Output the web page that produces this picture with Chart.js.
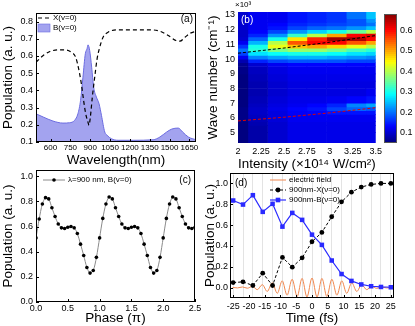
<!DOCTYPE html>
<html>
<head>
<meta charset="utf-8">
<script src="https://cdn.jsdelivr.net/npm/chart.js@4.4.1/dist/chart.umd.min.js"></script>
<style>
  html, body { margin: 0; padding: 0; background: #fff; }
  #wrap { position: relative; width: 415px; height: 326px; overflow: hidden; }
  #wrap canvas { position: absolute; }
</style>
</head>
<body>
<div id="wrap">
  <canvas id="cA" width="205" height="168" style="left:0;top:0"></canvas>
  <canvas id="cB" width="180" height="172" style="left:205px;top:0"></canvas>
  <canvas id="cBar" width="35" height="160" style="left:380px;top:0"></canvas>
  <canvas id="cC" width="205" height="166" style="left:0;top:160px"></canvas>
  <canvas id="cD" width="213" height="166" style="left:202px;top:160px"></canvas>
</div>
<script>
// (a) population vs wavelength
const wlX = [490, 545, 595, 658, 706, 757, 790, 815, 833, 850, 866, 883, 891, 901, 916, 934, 952, 972, 997, 1035, 1098, 1225, 1351, 1427, 1490, 1548, 1579, 1617, 1655, 1700];
const popX = [0.564, 0.603, 0.626, 0.636, 0.636, 0.622, 0.593, 0.516, 0.438, 0.342, 0.264, 0.216, 0.197, 0.245, 0.361, 0.477, 0.583, 0.651, 0.709, 0.738, 0.752, 0.752, 0.752, 0.744, 0.719, 0.69, 0.686, 0.709, 0.732, 0.744];
const wlB = [490, 545, 618, 694, 744, 782, 807, 827, 845, 863, 876, 883, 896, 911, 926, 947, 967, 985, 1010, 1028, 1060, 1111, 1225, 1376, 1427, 1478, 1516, 1566, 1599, 1642, 1700];
const popB = [0.264, 0.245, 0.222, 0.21, 0.212, 0.226, 0.264, 0.342, 0.477, 0.613, 0.642, 0.665, 0.632, 0.535, 0.419, 0.361, 0.322, 0.255, 0.158, 0.139, 0.119, 0.11, 0.11, 0.113, 0.129, 0.158, 0.175, 0.181, 0.158, 0.129, 0.113];
const wlTicks = [600, 750, 900, 1050, 1200, 1350, 1500, 1650];

// (b) map over intensity (x10^14 W/cm2) and wave number (x10^3 cm-1)
const intensityCols = [2.0, 2.2143, 2.4286, 2.6429, 2.8571, 3.0714, 3.2857, 3.5];
const waveEdges = [4.25, 5.0, 5.5, 5.75, 6.0, 6.25, 6.5, 6.75, 7.0, 7.5, 8.0, 8.5, 9.0, 9.5, 9.75, 10.0, 10.25, 10.5, 10.75, 11.0, 11.25, 11.5, 11.75, 12.0, 12.25, 12.5, 12.75, 13.25];
const heatValues = [
  [0.05, 0.05, 0.05, 0.055, 0.055, 0.055, 0.055, 0.05, 0.05, 0.05, 0.05, 0.05, 0.055, 0.06, 0.08, 0.12, 0.17, 0.2, 0.16, 0.12, 0.1, 0.095, 0.095, 0.1, 0.1, 0.1, 0.1],
  [0.075, 0.075, 0.08, 0.085, 0.09, 0.095, 0.095, 0.09, 0.085, 0.08, 0.08, 0.085, 0.09, 0.1, 0.15, 0.21, 0.27, 0.31, 0.3, 0.24, 0.19, 0.15, 0.13, 0.12, 0.12, 0.12, 0.12],
  [0.1, 0.1, 0.1, 0.105, 0.11, 0.11, 0.115, 0.11, 0.105, 0.1, 0.1, 0.105, 0.11, 0.12, 0.17, 0.23, 0.29, 0.36, 0.43, 0.4, 0.3, 0.22, 0.17, 0.14, 0.13, 0.12, 0.12],
  [0.115, 0.115, 0.115, 0.12, 0.12, 0.125, 0.13, 0.12, 0.115, 0.11, 0.11, 0.115, 0.12, 0.13, 0.18, 0.24, 0.3, 0.38, 0.48, 0.55, 0.46, 0.32, 0.22, 0.17, 0.15, 0.14, 0.14],
  [0.115, 0.115, 0.115, 0.12, 0.12, 0.13, 0.14, 0.13, 0.115, 0.11, 0.11, 0.115, 0.12, 0.13, 0.18, 0.24, 0.3, 0.38, 0.5, 0.6, 0.58, 0.4, 0.26, 0.19, 0.16, 0.15, 0.15],
  [0.115, 0.115, 0.115, 0.12, 0.12, 0.14, 0.17, 0.15, 0.12, 0.11, 0.11, 0.115, 0.12, 0.13, 0.18, 0.23, 0.29, 0.36, 0.47, 0.6, 0.66, 0.5, 0.3, 0.2, 0.17, 0.16, 0.16],
  [0.115, 0.115, 0.115, 0.12, 0.12, 0.14, 0.19, 0.21, 0.13, 0.11, 0.11, 0.115, 0.12, 0.13, 0.17, 0.22, 0.27, 0.33, 0.43, 0.55, 0.65, 0.6, 0.35, 0.22, 0.18, 0.18, 0.2],
  [0.115, 0.115, 0.115, 0.12, 0.12, 0.14, 0.18, 0.23, 0.14, 0.12, 0.11, 0.115, 0.12, 0.13, 0.17, 0.21, 0.26, 0.31, 0.4, 0.5, 0.6, 0.62, 0.4, 0.25, 0.2, 0.22, 0.25]
];
const ridgeI = [2.0, 2.5, 3.0, 3.5];
const ridgeUpper = [10.4, 10.75, 11.15, 11.6];
const ridgeLower = [5.8, 6.05, 6.35, 6.7];
const intensityTicks = [2, 2.25, 2.5, 2.75, 3, 3.25, 3.5];
const waveTicks = [5, 6, 7, 8, 9, 10, 11, 12, 13];
const cbarMin = 0.05, cbarMax = 0.68;
const cbarTicks = [0.1, 0.2, 0.3, 0.4, 0.5, 0.6];

// (c) population vs CEP phase
const phase = [0, 0.05, 0.1, 0.15, 0.2, 0.25, 0.3, 0.35, 0.4, 0.45, 0.5, 0.55, 0.6, 0.65, 0.7, 0.75, 0.8, 0.85, 0.9, 0.95,
  1.0, 1.05, 1.1, 1.15, 1.2, 1.25, 1.3, 1.35, 1.4, 1.45, 1.5, 1.55, 1.6, 1.65, 1.7, 1.75, 1.8, 1.85, 1.9, 1.95,
  2.0, 2.05, 2.1, 2.15, 2.2, 2.25, 2.3, 2.35, 2.4, 2.45, 2.5];
const popPhase = [0.51, 0.66, 0.78, 0.83, 0.82, 0.75, 0.68, 0.62, 0.59, 0.585, 0.595, 0.6, 0.59, 0.545, 0.46, 0.37, 0.275, 0.23, 0.25, 0.355,
  0.51, 0.665, 0.78, 0.835, 0.82, 0.75, 0.68, 0.62, 0.59, 0.585, 0.595, 0.6, 0.59, 0.545, 0.46, 0.37, 0.275, 0.23, 0.25, 0.355,
  0.51, 0.665, 0.78, 0.835, 0.82, 0.75, 0.68, 0.62, 0.59, 0.585, 0.595];

// (d) time evolution
const timeFs = [-25, -21.875, -18.75, -15.625, -12.5, -9.375, -6.25, -3.125, 0, 3.125, 6.25, 9.375, 12.5, 15.625, 18.75, 21.875, 25];
const popX900 = [0.048, 0.055, 0.02, 0.138, 0.02, 0.29, 0.196, 0.286, 0.44, 0.53, 0.68, 0.823, 0.916, 0.965, 0.99, 1.0, 1.0];
const popB900 = [0.836, 0.797, 0.887, 0.727, 0.804, 0.585, 0.717, 0.65, 0.508, 0.41, 0.26, 0.13, 0.064, 0.03, 0.013, 0.006, 0.003];
const fieldT = [-25.2, -23.6, -22.05, -20.5, -18.9, -17.35, -15.75, -14.2, -12.6, -11.0, -9.45, -7.9, -6.3, -4.7, -3.15, -1.6, 0,
  1.6, 3.15, 4.7, 6.3, 7.9, 9.45, 11.0, 12.6, 14.2, 15.75, 17.35, 18.9, 20.5, 22.05, 23.6, 25.2];
const fieldE = [0.002, -0.003, 0.006, -0.006, 0.012, -0.02, 0.028, -0.037, 0.046, -0.055, 0.065, -0.073, 0.08, -0.085, 0.088, -0.09, 0.092,
  -0.09, 0.088, -0.085, 0.08, -0.073, 0.065, -0.055, 0.046, -0.037, 0.028, -0.02, 0.013, -0.008, 0.005, -0.003, 0.001];
const timeTicks = [-25, -20, -15, -10, -5, 0, 5, 10, 15, 20, 25];

const FONT = '"Liberation Sans", Arial, sans-serif';
Chart.defaults.font.family = FONT;
Chart.defaults.font.size = 9;
Chart.defaults.color = '#000';
Chart.defaults.animation = false;
Chart.defaults.responsive = false;
Chart.defaults.plugins.legend.display = false;
Chart.defaults.plugins.tooltip.enabled = false;

const pts = (xs, ys) => xs.map((x, i) => ({ x: x, y: ys[i] }));
const oneDec = v => v.toFixed(1);

function jet(v) {
  const t = Math.min(1, Math.max(0, (v - cbarMin) / (cbarMax - cbarMin)));
  const c = k => Math.round(255 * Math.min(1, Math.max(0, 1.5 - Math.abs(4 * t - k))));
  return 'rgb(' + c(3) + ',' + c(2) + ',' + c(1) + ')';
}

// linear axis with fixed ticks and fixed box size
function axis(o) {
  return {
    type: 'linear', min: o.min, max: o.max, position: o.pos, offset: false,
    grid: { display: false, drawTicks: false },
    border: { display: false },
    ticks: { autoSkip: false, maxRotation: 0, padding: o.pad != null ? o.pad : 3, font: { size: o.tickSize || 9 }, callback: o.fmt || (v => v) },
    title: o.title ? { display: true, text: o.title, font: { size: 13.5 }, padding: 0 } : { display: false },
    afterBuildTicks: s => { s.ticks = o.ticks.map(v => ({ value: v })); },
    afterFit: s => {
      if (o.w != null) s.width = o.w;
      if (o.h != null) s.height = o.h;
    }
  };
}

// frame, inward ticks, keys and panel letters
const decor = {
  id: 'decor',
  afterDatasetsDraw(chart, args, o) {
    const ctx = chart.ctx, a = chart.chartArea;
    ctx.save();
    if (o.frame) {
      ctx.strokeStyle = o.frame;
      ctx.lineWidth = 1;
      ctx.setLineDash([]);
      const l = Math.round(a.left), t = Math.round(a.top), r = Math.round(a.right), b = Math.round(a.bottom);
      ctx.strokeRect(l + 0.5, t + 0.5, r - l - 1, b - t - 1);
      if (o.ticks) {
        ctx.beginPath();
        chart.scales.x.ticks.forEach(tk => {
          const p = Math.round(chart.scales.x.getPixelForValue(tk.value)) + 0.5;
          ctx.moveTo(p, b); ctx.lineTo(p, b - 3);
        });
        chart.scales.y.ticks.forEach(tk => {
          const p = Math.round(chart.scales.y.getPixelForValue(tk.value)) + 0.5;
          ctx.moveTo(l, p); ctx.lineTo(l + 3, p);
        });
        ctx.stroke();
      }
    }
    (o.keys || []).forEach(k => {
      const ds = chart.data.datasets[k.ds];
      const x0 = a.left + k.x, y0 = a.top + k.y;
      if (k.box) {
        ctx.fillStyle = ds.backgroundColor;
        ctx.fillRect(x0, y0 - 4, k.w, 8);
        ctx.strokeStyle = ds.borderColor;
        ctx.lineWidth = 0.6;
        ctx.strokeRect(x0, y0 - 4, k.w, 8);
      } else {
        ctx.strokeStyle = ds.borderColor;
        ctx.lineWidth = ds.borderWidth || 1;
        ctx.setLineDash(ds.borderDash || []);
        ctx.beginPath(); ctx.moveTo(x0, y0); ctx.lineTo(x0 + k.w, y0); ctx.stroke();
        ctx.setLineDash([]);
        if (ds.pointRadius) {
          const r = ds.pointRadius, cx = x0 + k.w / 2;
          ctx.fillStyle = ds.pointBackgroundColor;
          if (ds.pointStyle === 'rect') ctx.fillRect(cx - r * 0.72, y0 - r * 0.72, r * 1.44, r * 1.44);
          else { ctx.beginPath(); ctx.arc(cx, y0, r, 0, Math.PI * 2); ctx.fill(); }
        }
      }
      ctx.fillStyle = '#000';
      ctx.font = (k.size || 8) + 'px ' + FONT;
      ctx.textAlign = 'left';
      ctx.textBaseline = 'middle';
      ctx.fillText(k.text, x0 + k.w + 3, y0);
    });
    (o.texts || []).forEach(t => {
      ctx.fillStyle = t.color || '#000';
      ctx.font = (t.size || 10) + 'px ' + FONT;
      ctx.textAlign = t.right ? 'right' : 'left';
      ctx.textBaseline = 'middle';
      ctx.fillText(t.text, (t.right ? a.right : a.left) + t.x, a.top + t.y);
    });
    ctx.restore();
  }
};

// ---- panel (a)
new Chart('cA', {
  type: 'line',
  data: {
    datasets: [
      { data: pts(wlX, popX), borderColor: '#000', borderWidth: 1.2, borderDash: [4, 3], pointRadius: 0, cubicInterpolationMode: 'monotone', fill: false },
      { data: pts(wlB, popB), borderColor: '#6c6ce0', borderWidth: 1, backgroundColor: 'rgba(120,120,232,0.68)', pointRadius: 0, cubicInterpolationMode: 'monotone', fill: 'start' }
    ]
  },
  options: {
    layout: { padding: { top: 13, right: 9, left: 0, bottom: 0 } },
    scales: {
      x: axis({ min: 490, max: 1700, ticks: wlTicks, h: 26, title: 'Wavelength(nm)', pad: 1, tickSize: 8 }),
      y: axis({ min: 0.1, max: 0.85, ticks: [0.1, 0.2, 0.3, 0.4, 0.5, 0.6, 0.7, 0.8], w: 36, title: 'Population (a. u.)', fmt: oneDec })
    },
    plugins: {
      decor: {
        frame: '#000', ticks: true,
        keys: [
          { ds: 0, x: 2, y: 5, w: 12, text: 'X(v=0)' },
          { ds: 1, x: 2, y: 15, w: 12, text: 'B(v=0)', box: true }
        ],
        texts: [{ text: '(a)', x: -3, y: 6, right: true }]
      }
    }
  },
  plugins: [decor]
});

// ---- panel (b)
const heatSets = intensityCols.map((x, c) => ({
  type: 'bar',
  data: waveEdges.slice(0, -1).map((lo, r) => ({ x: x, y: [lo, waveEdges[r + 1]] })),
  backgroundColor: heatValues[c].map(jet),
  borderWidth: 0, barPercentage: 1, categoryPercentage: 1, grouped: false, clip: 0, order: 2
}));
new Chart('cB', {
  type: 'bar',
  data: {
    datasets: [
      { type: 'line', data: pts(ridgeI, ridgeUpper), borderColor: '#000', borderWidth: 1, borderDash: [3, 2], pointRadius: 0, order: 0 },
      { type: 'line', data: pts(ridgeI, ridgeLower), borderColor: '#e00000', borderWidth: 1, borderDash: [3, 2], pointRadius: 0, order: 0 }
    ].concat(heatSets)
  },
  options: {
    layout: { padding: { top: 12, right: 4, left: 0, bottom: 0 } },
    scales: {
      x: axis({ min: 2, max: 3.5, ticks: intensityTicks, h: 29, title: 'Intensity (×10¹⁴ W/cm²)', pad: 3 }),
      y: axis({ min: 4.3, max: 13.2, ticks: waveTicks, w: 33, title: 'Wave number (cm⁻¹)' })
    },
    plugins: {
      decor: {
        texts: [
          { text: '(b)', x: 3, y: 8, color: '#fff' },
          { text: '×10³', x: -3, y: -7, size: 8 }
        ]
      }
    }
  },
  plugins: [decor]
});

// ---- colour bar
const cbarLevels = Array.from({ length: 64 }, (_, i) => cbarMin + (i + 0.5) * (cbarMax - cbarMin) / 64);
const cbarHalf = (cbarMax - cbarMin) / 128;
new Chart('cBar', {
  type: 'bar',
  data: {
    labels: [''],
    datasets: cbarLevels.map(v => ({
      data: [[v - cbarHalf, v + cbarHalf]], backgroundColor: jet(v),
      borderWidth: 0, barPercentage: 1, categoryPercentage: 1, grouped: false, clip: 0
    }))
  },
  options: {
    layout: { padding: { top: 14, right: 0, left: 4, bottom: 17 } },
    scales: {
      x: { display: false },
      y: axis({ min: cbarMin, max: cbarMax, ticks: cbarTicks, w: 18, pos: 'right', fmt: oneDec })
    },
    plugins: { decor: { frame: '#555' } }
  },
  plugins: [decor]
});

// ---- panel (c)
new Chart('cC', {
  type: 'line',
  data: {
    datasets: [
      { data: pts(phase, popPhase), borderColor: '#8a8a8a', borderWidth: 1, pointRadius: 1.8, pointBackgroundColor: '#000', pointBorderWidth: 0, tension: 0.3 }
    ]
  },
  options: {
    layout: { padding: { top: 10, right: 10, left: 0, bottom: 0 } },
    scales: {
      x: axis({ min: 0, max: 2.5, ticks: [0, 0.5, 1, 1.5, 2, 2.5], h: 24, title: 'Phase (π)', pad: 1, fmt: oneDec }),
      y: axis({ min: 0, max: 1.05, ticks: [0, 0.2, 0.4, 0.6, 0.8, 1.0], w: 36, title: 'Population (a. u.)', fmt: oneDec })
    },
    plugins: {
      decor: {
        frame: '#000', ticks: true,
        keys: [{ ds: 0, x: 7, y: 10, w: 22, text: 'λ=900 nm, B(v=0)' }],
        texts: [{ text: '(c)', x: -4, y: 10, right: true }]
      }
    }
  },
  plugins: [decor]
});

// ---- panel (d)
new Chart('cD', {
  type: 'line',
  data: {
    datasets: [
      { data: pts(timeFs, popB900), borderColor: '#2a2aff', borderWidth: 1.2, pointStyle: 'rect', pointRadius: 3.2, pointBackgroundColor: '#2a2aff', pointBorderWidth: 0 },
      { data: pts(timeFs, popX900), borderColor: '#000', borderWidth: 1, borderDash: [3, 2], pointStyle: 'circle', pointRadius: 2.4, pointBackgroundColor: '#000', pointBorderWidth: 0 },
      { data: pts(fieldT, fieldE), borderColor: '#f08850', borderWidth: 1, pointRadius: 0, cubicInterpolationMode: 'monotone' }
    ]
  },
  options: {
    layout: { padding: { top: 13, right: 21, left: 0, bottom: 0 } },
    scales: {
      x: axis({ min: -26, max: 26, ticks: timeTicks, h: 28, title: 'Time (fs)', pad: 3 }),
      xg: {
        type: 'linear', min: -26, max: 26, position: 'bottom',
        ticks: { display: false }, border: { display: false },
        grid: { display: true, drawTicks: false, color: '#dcdcdc', lineWidth: 0.8 },
        afterBuildTicks: s => { s.ticks = timeFs.map(v => ({ value: v })); },
        afterFit: s => { s.height = 0; }
      },
      y: axis({ min: -0.1, max: 1.1, ticks: [0, 0.2, 0.4, 0.6, 0.8, 1.0], w: 28, title: 'Population (a. u.)', fmt: oneDec, pad: 2 })
    },
    plugins: {
      decor: {
        frame: '#000', ticks: true,
        keys: [
          { ds: 2, x: 40, y: 7, w: 16, text: 'electric field' },
          { ds: 1, x: 40, y: 17, w: 16, text: '900nm-X(ν=0)' },
          { ds: 0, x: 40, y: 27, w: 16, text: '900nm-B(ν=0)' }
        ],
        texts: [{ text: '(d)', x: 5, y: 10 }]
      }
    }
  },
  plugins: [decor]
});
</script>
</body>
</html>
